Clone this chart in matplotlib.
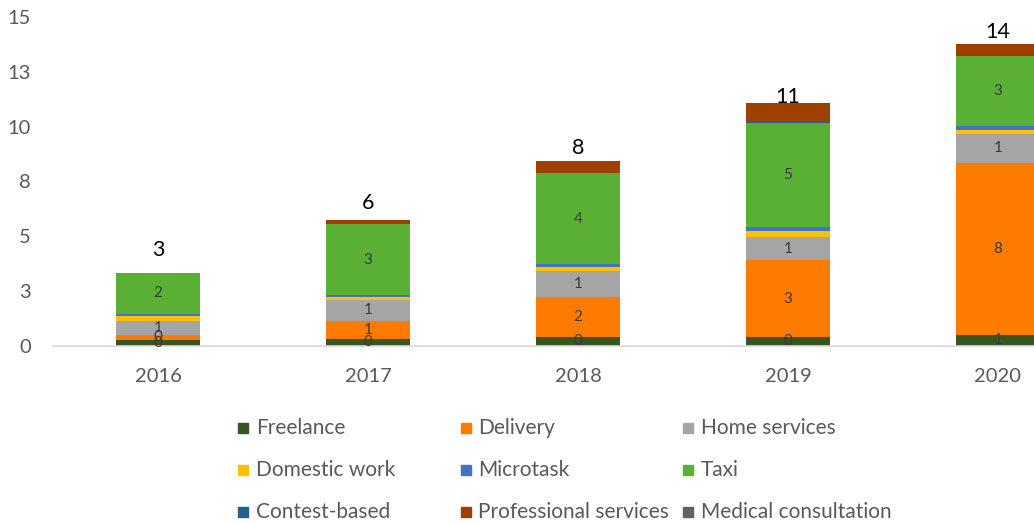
import matplotlib

matplotlib.use("Agg")

import matplotlib.pyplot as plt
import numpy as np
from matplotlib.patches import Rectangle

plt.rcParams["font.family"] = ["Lato", "DejaVu Sans"]

years = ["2016", "2017", "2018", "2019", "2020"]
series_names = [
    "Freelance", "Delivery", "Home services",
    "Domestic work", "Microtask", "Taxi",
    "Contest-based", "Professional services", "Medical consultation",
]
freelance = [0.26, 0.32, 0.42, 0.42, 0.52]
delivery = [0.26, 0.80, 1.80, 3.48, 7.83]
home_services = [0.60, 1.00, 1.18, 1.09, 1.33]
domestic_work = [0.23, 0.10, 0.20, 0.27, 0.18]
microtask = [0.12, 0.10, 0.15, 0.18, 0.18]
taxi = [1.85, 3.23, 4.12, 4.74, 3.18]
contest_based = [0.0, 0.0, 0.02, 0.05, 0.05]
professional_services = [0.03, 0.20, 0.53, 0.83, 0.52]
medical_consultation = [0.0, 0.0, 0.0, 0.0, 0.0]
totals_label = ["3", "6", "8", "11", "14"]
ytick_values = [0, 2.5, 5, 7.5, 10, 12.5, 15]
ytick_labels = ["0", "3", "5", "8", "10", "13", "15"]

series = [freelance, delivery, home_services, domestic_work, microtask,
          taxi, contest_based, professional_services, medical_consultation]
colors = ["#375623", "#FF7B00", "#A5A5A5", "#FFC000", "#4472C4",
          "#5AB035", "#255E91", "#9E4100", "#636363"]
labelled = {"Freelance", "Delivery", "Home services", "Taxi"}
# gap between bar top and total label baseline (data units), as in the source
total_gap = [0.76, 0.51, 0.32, 0.03, 0.26]

W, H = 1034, 524
fig = plt.figure(figsize=(W / 100, H / 100), dpi=100)
ax = fig.add_axes([53 / W, 1 - 346 / H, 1050 / W, 329 / H])

x = np.arange(len(years))
bottom = np.zeros(len(years))
for name, vals, col in zip(series_names, series, colors):
    vals = np.array(vals)
    ax.bar(x, vals, bottom=bottom, width=0.4, color=col, linewidth=0)
    if name in labelled:
        for xi, b, v in zip(x, bottom, vals):
            ax.text(xi, b + v / 2, f"{int(np.floor(v + 0.5))}", ha="center",
                    va="center", fontsize=11, color="#3A3A3A")
    bottom = bottom + vals

for xi, tot, lab, gap in zip(x, bottom, totals_label, total_gap):
    ax.text(xi, tot + gap, lab, ha="center", va="baseline", fontsize=15.5,
            color="#000000")

ax.set_xlim(-0.5, len(years) - 0.5)
ax.set_ylim(0, 15)
ax.set_xticks(x)
ax.set_xticklabels(years)
ax.set_yticks(ytick_values)
ax.set_yticklabels(ytick_labels)
ax.tick_params(axis="both", length=0, labelsize=14.5, colors="#595959")
ax.tick_params(axis="y", pad=16)
ax.tick_params(axis="x", pad=16)
for side in ["left", "right", "top"]:
    ax.spines[side].set_visible(False)
ax.spines["bottom"].set_color("#D9D9D9")
ax.spines["bottom"].set_linewidth(1.2)

# legend: 3 equal-width columns like the Excel legend
for i, (name, col) in enumerate(zip(series_names, colors)):
    r, c = divmod(i, 3)
    cx = 243 + c * 222.5
    cy = 428 + r * 42
    fig.patches.append(Rectangle(((cx - 5) / W, 1 - (cy + 5) / H), 10 / W, 10 / H,
                                 transform=fig.transFigure, color=col))
    fig.text((cx + 13) / W, 1 - cy / H, name, ha="left", va="center",
             fontsize=15, color="#595959")

fig.savefig("out.png", dpi=100)
